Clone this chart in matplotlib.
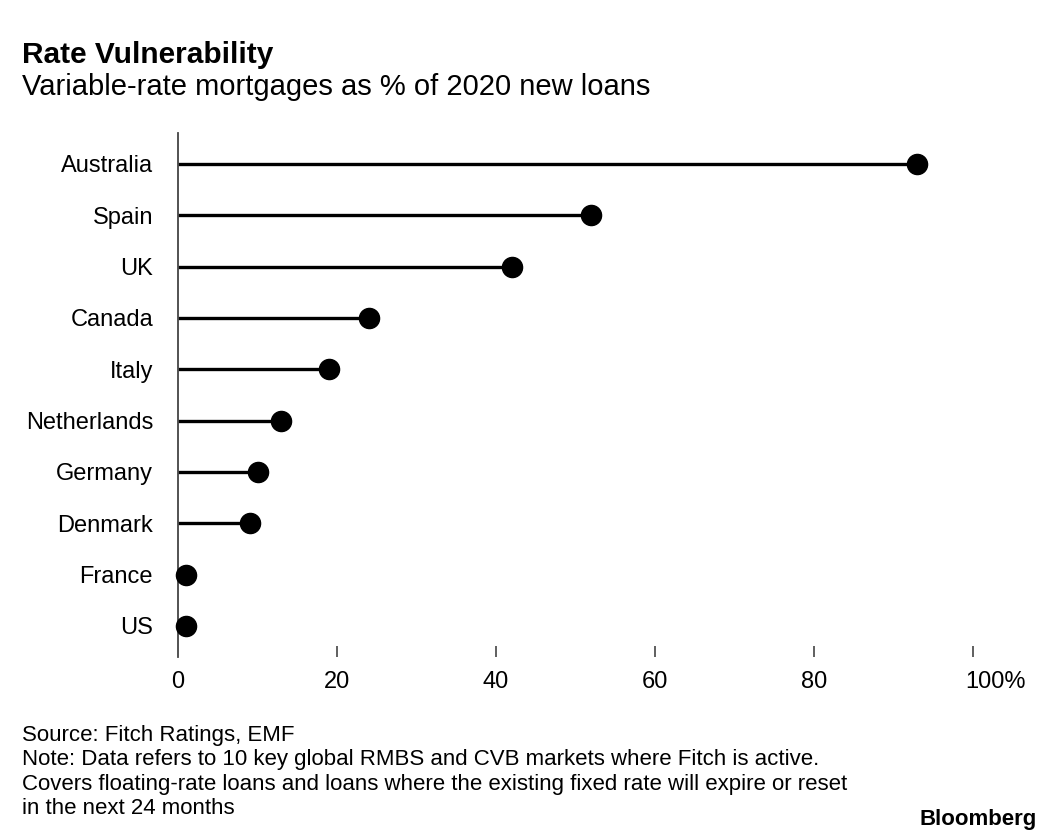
import matplotlib
matplotlib.use("Agg")
import matplotlib.pyplot as plt

countries = ["Australia", "Spain", "UK", "Canada", "Italy", "Netherlands",
             "Germany", "Denmark", "France", "US"]
values = [93, 52, 42, 24, 19, 13, 10, 9, 1, 1]
xticks = [0, 20, 40, 60, 80, 100]
xticklabels = ["0", "20", "40", "60", "80", "100%"]

title = "Rate Vulnerability"
subtitle = "Variable-rate mortgages as % of 2020 new loans"
footer = ["Source: Fitch Ratings, EMF",
          "Note: Data refers to 10 key global RMBS and CVB markets where Fitch is active.",
          "Covers floating-rate loans and loans where the existing fixed rate will expire or reset",
          "in the next 24 months"]

plt.rcParams['font.family'] = ['Liberation Sans', 'DejaVu Sans']

W, H = 1060, 839
fig = plt.figure(figsize=(W / 100, H / 100), dpi=100)

def fx(px):
    return px / W

def fy(py):
    return 1 - py / H

left, right = 178, 973
top, bottom = 133, 657
ax = fig.add_axes([fx(left), fy(bottom), fx(right - left), (bottom - top) / H])

ypos = list(range(len(countries)))
ax.hlines(ypos, 0, values, color="black", lw=2.4, zorder=2)
ax.plot(values, ypos, "o", color="black", markersize=14.5, zorder=3, clip_on=False)

ax.set_xlim(0, 100)
step = 51.33
y_top = -(164 - top) / step
y_bot = y_top + (bottom - top) / step
ax.set_ylim(y_bot, y_top)

for s in ["top", "right", "bottom"]:
    ax.spines[s].set_visible(False)
ax.spines["left"].set_linewidth(1.3)
ax.spines["left"].set_color("#444444")

ax.set_yticks(ypos)
ax.set_yticklabels(countries, fontsize=17)
ax.tick_params(axis="y", length=0, pad=18)

ax.set_xticks(xticks)
ax.set_xticklabels(xticklabels, fontsize=17)
ax.tick_params(axis="x", direction="in", length=8, width=1.2, color="#444444", pad=10)
ax.xaxis.get_major_ticks()[0].tick1line.set_visible(False)

# shift the "100%" label so that it starts just left of its tick, as in the original
fig.canvas.draw()
last = ax.xaxis.get_major_ticks()[-1].label1
bb = last.get_window_extent()
shift = 965 - bb.x0
import matplotlib.transforms as mtransforms
last.set_transform(last.get_transform() +
                   mtransforms.Affine2D().translate(shift, 0))

fig.text(fx(22), fy(63), title, fontsize=21.5, fontweight="bold", va="baseline")
fig.text(fx(22), fy(95), subtitle, fontsize=21, va="baseline")

for i, line in enumerate(footer):
    fig.text(fx(22), fy(741 + i * 24.5), line, fontsize=16, va="baseline")

fig.text(fx(1037), fy(825), "Bloomberg", fontsize=16, fontweight="bold",
         ha="right", va="baseline")

fig.savefig("out.png", dpi=100)
